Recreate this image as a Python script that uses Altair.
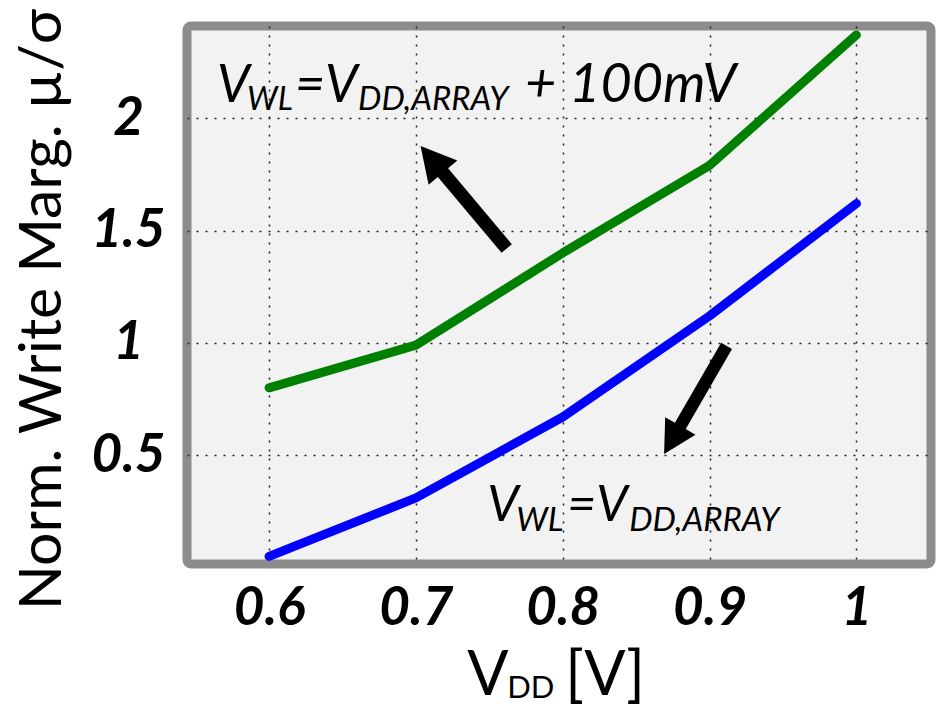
import altair as alt
import pandas as pd

# ---- data ----
vdd = [0.6, 0.7, 0.8, 0.9, 1.0]
wm_boost = [0.80, 0.99, 1.40, 1.79, 2.37]      # V_WL = V_DD,ARRAY + 100mV (green)
wm_nominal = [0.05, 0.31, 0.67, 1.12, 1.62]    # V_WL = V_DD,ARRAY (blue)
series_names = ["boost", "nominal"]
series_colors = ["#008000", "#0000ff"]
x_ticks = [0.6, 0.7, 0.8, 0.9, 1.0]
y_ticks = [0.5, 1.0, 1.5, 2.0]

df = pd.DataFrame({
    "vdd": vdd + vdd,
    "wm": wm_boost + wm_nominal,
    "series": [series_names[0]] * len(vdd) + [series_names[1]] * len(vdd),
})

X_DOMAIN = [0.5441, 1.0508]
Y_DOMAIN = [0.016, 2.41]
FONT = "Lato"

xs = alt.Scale(domain=X_DOMAIN, nice=False, zero=False)
ys = alt.Scale(domain=Y_DOMAIN, nice=False, zero=False)

x_axis = alt.Axis(
    values=x_ticks, format=".1~f", title=None, grid=True, ticks=False, tickSize=0,
    domain=False, labelPadding=18, labelFont=FONT, labelFontSize=53,
    labelFontWeight="bold", labelFontStyle="italic", labelColor="black",
    gridColor="#222222", gridDash=[2, 7], gridWidth=1.5,
)
y_axis = alt.Axis(
    values=y_ticks, format=".1~f", grid=True, ticks=False, tickSize=0,
    domain=False, labelPadding=59, labelAlign="center", labelBaseline="middle",
    labelFont=FONT, labelFontSize=53, labelFontWeight="bold",
    labelFontStyle="italic", labelColor="black",
    gridColor="#222222", gridDash=[2, 7], gridWidth=1.5,
    title="Norm. Write Marg. \u00b5/\u03c3", titleFont=FONT, titleFontSize=59,
    titleFontWeight="normal", titleColor="black", titleAngle=270,
    titleAlign="center", titleBaseline="alphabetic", titleX=-127, titleY=283,
)

lines = alt.Chart(df).mark_line(
    strokeWidth=9, strokeCap="round", strokeJoin="round"
).encode(
    x=alt.X("vdd:Q", scale=xs, axis=x_axis),
    y=alt.Y("wm:Q", scale=ys, axis=y_axis),
    color=alt.Color("series:N", scale=alt.Scale(domain=series_names, range=series_colors), legend=None),
)

# ---- arrows (custom path symbols, tip pointing up before rotation) ----
ARROW = "M0,-1L0.28,-0.48L0.1,-0.48L0.1,1L-0.1,1L-0.1,-0.48L-0.28,-0.48Z"
arrow_x = [0.7325, 0.8903]
arrow_y = [1.648, 0.746]
arrow_angle = [320, 210]
arrow_size = [17956, 15625]
arrows_df = pd.DataFrame({"x": arrow_x, "y": arrow_y, "angle": arrow_angle, "size": arrow_size})
arrows = alt.Chart(arrows_df).mark_point(
    shape=ARROW, filled=True, color="black", opacity=1, strokeWidth=0
).encode(
    x=alt.X("x:Q", scale=xs),
    y=alt.Y("y:Q", scale=ys),
    angle=alt.Angle("angle:Q", scale=None),
    size=alt.Size("size:Q", scale=None),
)

# ---- composed text with subscripts ----
def pieces(anchor, parts, style="italic"):
    layers = []
    for text, dx, dy, size in parts:
        layers.append(
            alt.Chart().mark_text(
                text=text, align="left", baseline="alphabetic", dx=dx, dy=dy,
                font=FONT, fontSize=size, fontStyle=style, color="black",
            ).encode(x=alt.datum(anchor[0], scale=xs), y=alt.datum(anchor[1], scale=ys))
        )
    return layers

ann1 = pieces((0.5646, 2.071), [
    ("V", 0, 0, 52), ("WL", 30, 8, 32), ("=", 78, 0, 52), ("V", 108, 0, 52),
    ("DD,ARRAY", 141, 8, 33), ("+ 100mV", 308, 0, 54),
])
ann2 = pieces((0.7486, 0.2094), [
    ("V", 0, 0, 50), ("WL", 29, 10, 33), ("=", 80, 0, 50), ("V", 109, 0, 50),
    ("DD,ARRAY", 142, 10, 33),
])
xtitle = pieces((0.7349, -0.566), [
    ("V", 0, 0, 61), ("DD", 40, 3, 31), ("[V]", 98, 0, 61),
], style="normal")

chart = alt.layer(lines, arrows, *ann1, *ann2, *xtitle).properties(
    width=744, height=538,
    padding={"left": 187, "top": 26, "right": 9, "bottom": 145},
    autosize=alt.AutoSizeParams(type="none"),
    background="white",
).configure_view(
    fill="#f2f2f2", stroke="#8c8c8c", strokeWidth=9, cornerRadius=4,
)

chart.save("out.html", embed_options={"renderer": "svg", "actions": False})
